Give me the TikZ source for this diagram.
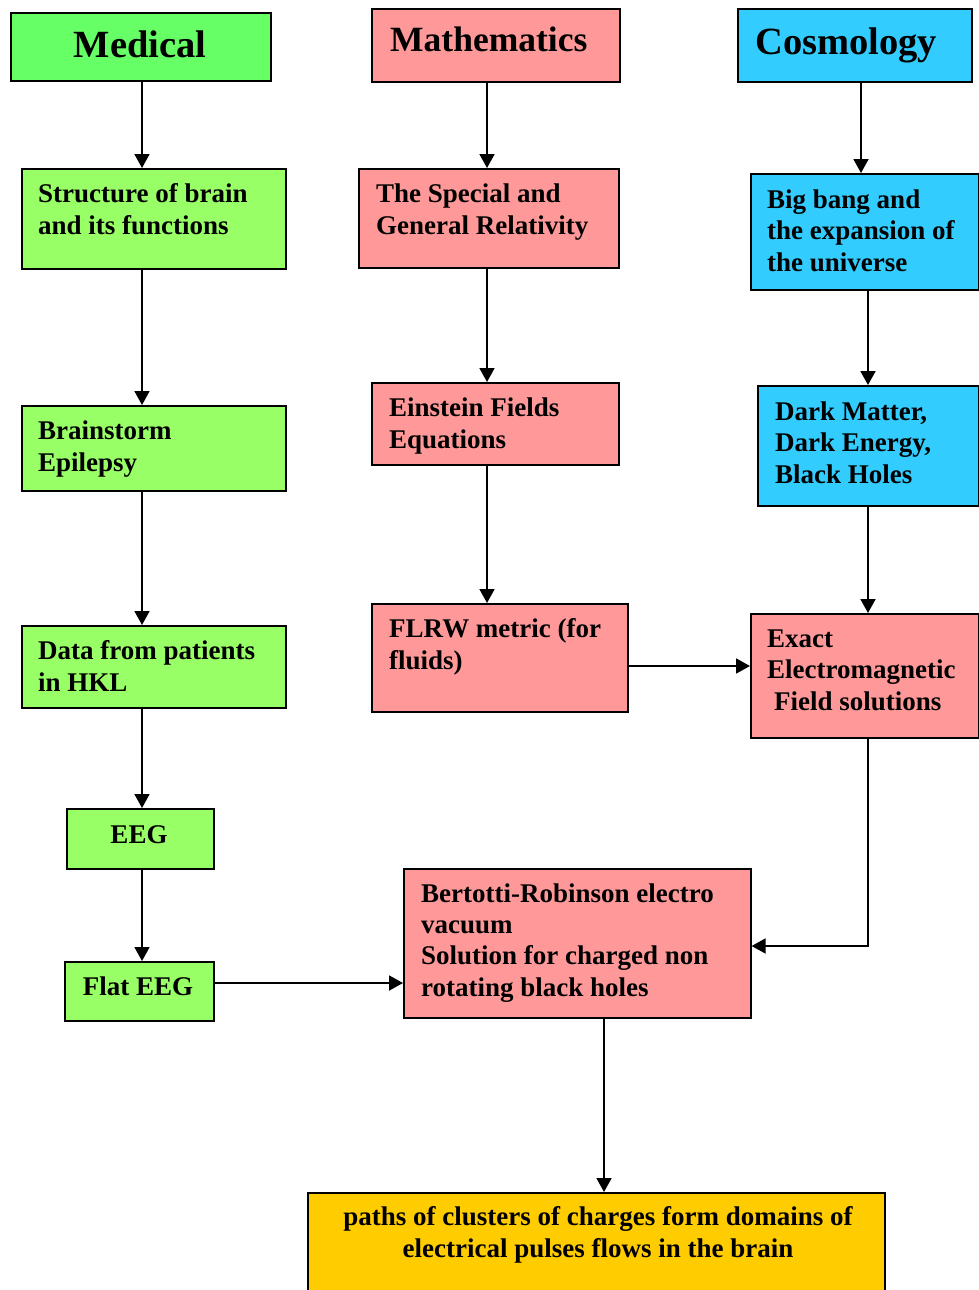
\documentclass[tikz,border=0pt]{standalone}
\usepackage{fontspec}
\setmainfont{Liberation Serif}
\usetikzlibrary{arrows.meta}
\definecolor{medg}{HTML}{66FF66}
\definecolor{lg}{HTML}{99FF66}
\definecolor{pk}{HTML}{FF9999}
\definecolor{cy}{HTML}{33CCFF}
\definecolor{yl}{HTML}{FFCC00}
\begin{document}
\begin{tikzpicture}[x=1pt,y=-1pt,
 box/.style={draw=black, line width=1.6pt, anchor=north west, inner sep=0pt},
 txt/.style={anchor=base west, align=left, inner sep=0pt, font=\fontsize{27}{31.3}\selectfont\bfseries},
 head/.style={inner sep=0pt, font=\fontsize{38.5}{40}\selectfont\bfseries},
 arr/.style={line width=1.8pt, -{Triangle[length=14pt,width=15pt]}}]
\useasboundingbox (0,0) rectangle (979,1290);
% boxes
\node[box,fill=medg,minimum width=260pt,minimum height=68pt] (med) at (10,12) {};
\node[box,fill=pk,minimum width=248pt,minimum height=73pt] (mat) at (371,8) {};
\node[box,fill=cy,minimum width=234pt,minimum height=73pt] (cos) at (737,8) {};
\node[box,fill=lg,minimum width=264pt,minimum height=100pt] (str) at (21,168) {};
\node[box,fill=pk,minimum width=260pt,minimum height=99pt] (spe) at (358,168) {};
\node[box,fill=cy,minimum width=228pt,minimum height=116pt] (big) at (750,173) {};
\node[box,fill=lg,minimum width=264pt,minimum height=85pt] (brs) at (21,405) {};
\node[box,fill=pk,minimum width=247pt,minimum height=82pt] (ein) at (371,382) {};
\node[box,fill=cy,minimum width=221pt,minimum height=120pt] (drk) at (757,385) {};
\node[box,fill=lg,minimum width=264pt,minimum height=82pt] (dat) at (21,625) {};
\node[box,fill=pk,minimum width=256pt,minimum height=108pt] (flr) at (371,603) {};
\node[box,fill=pk,minimum width=228pt,minimum height=124pt] (exa) at (750,613) {};
\node[box,fill=lg,minimum width=147pt,minimum height=60pt] (eeg) at (66,808) {};
\node[box,fill=lg,minimum width=149pt,minimum height=59pt] (fla) at (64,961) {};
\node[box,fill=pk,minimum width=347pt,minimum height=149pt] (ber) at (403,868) {};
\node[box,fill=yl,minimum width=577pt,minimum height=110pt] (bot) at (307,1192) {};
% texts (base anchor = baseline of last line)
\node[head,anchor=base] (medt) at (140,58) {Medical};
\node[head,anchor=base west,font=\fontsize{35.5}{40}\selectfont\bfseries] (matt) at (390,52) {Mathematics};
\node[head,anchor=base west] (cost) at (755,55) {Cosmology};
\node[txt] (strt) at (38,234) {Structure of brain\\and its functions};
\node[txt] (spet) at (376,234) {The Special and\\General Relativity};
\node[txt] (bigt) at (767,271) {Big bang and\\the expansion of\\the universe};
\node[txt] (brst) at (38,471) {Brainstorm\\Epilepsy};
\node[txt] (eint) at (389,448) {Einstein Fields\\Equations};
\node[txt] (drkt) at (775,483) {Dark Matter,\\Dark Energy,\\Black Holes};
\node[txt] (datt) at (38,691) {Data from patients\\in HKL};
\node[txt] (flrt) at (389,669) {FLRW metric (for\\fluids)};
\node[txt] (exat) at (767,710) {Exact\\Electromagnetic\\\hspace*{7pt}Field solutions};
\node[txt,anchor=base] (eegt) at (139,843) {EEG};
\node[txt,anchor=base] (flat) at (138,995) {Flat EEG};
\node[txt] (bert) at (421,996) {Bertotti-Robinson electro\\vacuum\\Solution for charged non\\rotating black holes};
\node[txt,anchor=base,align=center] (bott) at (598,1257) {paths of clusters of charges form domains of\\electrical pulses flows in the brain};
% arrows
\draw[arr] (med.south -| 142,0) -- (str.north -| 142,0);
\draw[arr] (str.south -| 142,0) -- (brs.north -| 142,0);
\draw[arr] (brs.south -| 142,0) -- (dat.north -| 142,0);
\draw[arr] (dat.south -| 142,0) -- (eeg.north -| 142,0);
\draw[arr] (eeg.south -| 142,0) -- (fla.north -| 142,0);
\draw[arr] (mat.south -| 487,0) -- (spe.north -| 487,0);
\draw[arr] (spe.south -| 487,0) -- (ein.north -| 487,0);
\draw[arr] (ein.south -| 487,0) -- (flr.north -| 487,0);
\draw[arr] (cos.south -| 861,0) -- (big.north -| 861,0);
\draw[arr] (big.south -| 868,0) -- (drk.north -| 868,0);
\draw[arr] (drk.south -| 868,0) -- (exa.north -| 868,0);
\draw[arr] (flr.east |- 0,666) -- (exa.west |- 0,666);
\draw[arr] (fla.east |- 0,983) -- (ber.west |- 0,983);
\draw[arr] (exa.south -| 868,0) |- (ber.east |- 0,946);
\draw[arr] (ber.south -| 604,0) -- (bot.north -| 604,0);
\end{tikzpicture}
\end{document}
